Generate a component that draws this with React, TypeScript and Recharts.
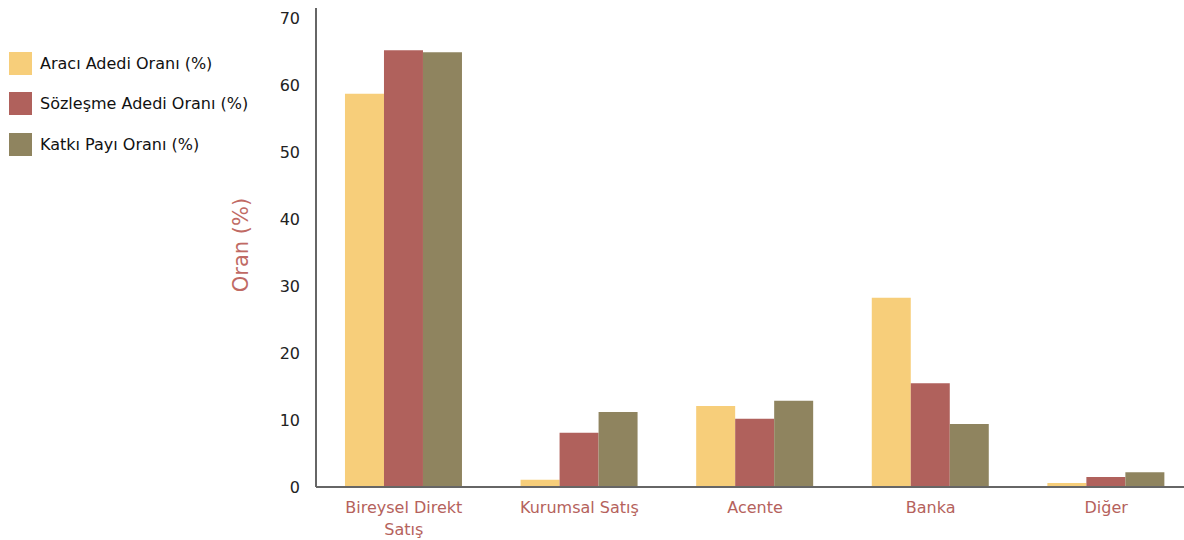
import { BarChart, Bar, XAxis, YAxis } from "recharts";

const categories = ["Bireysel Direkt Satış", "Kurumsal Satış", "Acente", "Banka", "Diğer"];
const araciAdedi = [58.8, 1.1, 12.1, 28.3, 0.6];
const sozlesmeAdedi = [65.3, 8.1, 10.2, 15.5, 1.5];
const katkiPayi = [65.0, 11.2, 12.9, 9.4, 2.2];
const yTicks = [0, 10, 20, 30, 40, 50, 60, 70];

const series = [
  { key: "araci", name: "Aracı Adedi Oranı (%)", color: "#f7ce7a" },
  { key: "sozlesme", name: "Sözleşme Adedi Oranı (%)", color: "#b0615c" },
  { key: "katki", name: "Katkı Payı Oranı (%)", color: "#8f845f" },
];

const data = categories.map((name, i) => ({
  name,
  araci: araciAdedi[i],
  sozlesme: sozlesmeAdedi[i],
  katki: katkiPayi[i],
}));

const FONT = "'DejaVu Sans', Verdana, sans-serif";

function CategoryTick({ x, y, payload }: any) {
  const words = String(payload.value).split(" ");
  const lines = words.length > 2 ? [words.slice(0, 2).join(" "), words.slice(2).join(" ")] : [payload.value];
  return (
    <text x={x} y={y} textAnchor="middle" fill="#b5625c" fontSize={16} fontFamily={FONT}>
      {lines.map((l: string, i: number) => (
        <tspan key={i} x={x} dy={i === 0 ? 18 : 22}>
          {l}
        </tspan>
      ))}
    </text>
  );
}

function SideLegend() {
  return (
    <div style={{ position: "absolute", left: 9, top: 43, fontFamily: FONT, fontSize: 16, color: "#111" }}>
      {series.map((s) => (
        <div key={s.key} style={{ display: "flex", alignItems: "center", height: 40.5, whiteSpace: "nowrap" }}>
          <div style={{ width: 23, height: 23, background: s.color, marginRight: 8 }} />
          <span>{s.name}</span>
        </div>
      ))}
    </div>
  );
}

function AxisTitle() {
  const cx = 241;
  const cy = 245;
  return (
    <text
      x={cx}
      y={cy}
      transform={`rotate(-90, ${cx}, ${cy})`}
      textAnchor="middle"
      dominantBaseline="central"
      fill="#c06a64"
      fontSize={21}
      fontFamily={FONT}
    >
      Oran (%)
    </text>
  );
}

export default function App() {
  return (
    <div style={{ position: "relative", width: 1184, height: 540, background: "#fff", overflow: "hidden" }}>
      <style>{"body{margin:0;}"}</style>
      <BarChart
        width={1194}
        height={540}
        data={data}
        margin={{ top: 8, right: 0, bottom: 0, left: 0 }}
        barCategoryGap="16.5%"
        barGap={0}
      >
        <XAxis
          dataKey="name"
          axisLine={{ stroke: "#666", strokeWidth: 2 }}
          tickLine={false}
          height={53}
          interval={0}
          tick={<CategoryTick />}
        />
        <YAxis
          width={316}
          domain={[0, 71.6]}
          ticks={yTicks}
          axisLine={{ stroke: "#666", strokeWidth: 2 }}
          tickLine={false}
          tickSize={6}
          tickMargin={10}
          tick={{ fill: "#222", fontSize: 16, fontFamily: FONT }}
          label={{ content: <AxisTitle /> }}
        />
        {series.map((s) => (
          <Bar key={s.key} dataKey={s.key} name={s.name} fill={s.color} isAnimationActive={false} />
        ))}
      </BarChart>
      <SideLegend />
    </div>
  );
}
